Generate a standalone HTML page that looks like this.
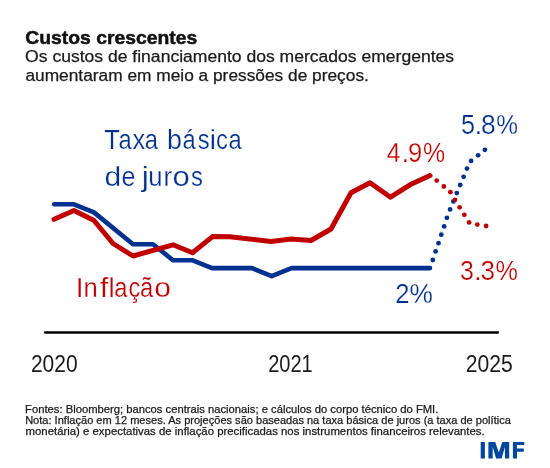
<!DOCTYPE html>
<html><head><meta charset="utf-8">
<style>
html,body{margin:0;padding:0;background:#fff;}
svg{display:block;will-change:transform;}
text{font-family:"Liberation Sans",sans-serif;}
</style></head>
<body>
<svg width="550" height="468" viewBox="0 0 550 468">
<text x="25.35" y="43.6" font-size="19" font-weight="bold" fill="#111" stroke="#111" stroke-width="0.5" stroke-linejoin="round" textLength="171.9" lengthAdjust="spacingAndGlyphs">Custos crescentes</text>
<text x="25.12" y="62.4" font-size="15.8" fill="#1a1a1a" stroke="#1a1a1a" stroke-width="0.25" stroke-linejoin="round" textLength="429.01" lengthAdjust="spacingAndGlyphs">Os custos de financiamento dos mercados emergentes</text>
<text x="25.41" y="80.8" font-size="15.8" fill="#1a1a1a" stroke="#1a1a1a" stroke-width="0.25" stroke-linejoin="round" textLength="343.47" lengthAdjust="spacingAndGlyphs">aumentaram em meio a pressões de preços.</text>
<g font-size="28" fill="#00318f" stroke="#fff" stroke-width="0.25"><text transform="translate(104.23,149) scale(0.91,1)">T</text><text transform="translate(118.48,149) scale(0.85,1)">a</text><text transform="translate(132.42,149) scale(0.904,1)">x</text><text transform="translate(144.83,149) scale(0.85,1)">a</text><text transform="translate(167.07,149) scale(0.961,1)">b</text><text transform="translate(182.53,149) scale(0.85,1)">á</text><text transform="translate(197.8,149) scale(0.85,1)">s</text><text transform="translate(209.75,149) scale(1.0,1)">i</text><text transform="translate(216.06,149) scale(0.85,1)">c</text><text transform="translate(228.53,149) scale(0.85,1)">a</text></g>
<g font-size="28" fill="#00318f" stroke="#fff" stroke-width="0.25"><text transform="translate(104.54,185.6) scale(1.072,1)">d</text><text transform="translate(121.43,185.6) scale(0.898,1)">e</text><text transform="translate(141.8,185.6) scale(1.15,1)">j</text><text transform="translate(148.23,185.6) scale(0.916,1)">u</text><text transform="translate(163.47,185.6) scale(0.929,1)">r</text><text transform="translate(172.59,185.6) scale(1.112,1)">o</text><text transform="translate(190.95,185.6) scale(0.85,1)">s</text></g>
<g font-size="28" fill="#c00000" stroke="#fff" stroke-width="0.25"><text transform="translate(386.74,161.8) scale(0.879,1)">4</text><text transform="translate(401.46,161.8) scale(1.0,1)">.</text><text transform="translate(408.0,161.8) scale(0.912,1)">9</text><text transform="translate(423.11,161.8) scale(0.891,1)">%</text></g>
<g font-size="28" fill="#00318f" stroke="#fff" stroke-width="0.25"><text transform="translate(460.89,133.9) scale(0.904,1)">5</text><text transform="translate(474.46,133.9) scale(1.0,1)">.</text><text transform="translate(481.05,133.9) scale(0.944,1)">8</text><text transform="translate(496.13,133.9) scale(0.873,1)">%</text></g>
<g font-size="28" fill="#c00000" stroke="#fff" stroke-width="0.25"><text transform="translate(459.95,280.1) scale(0.889,1)">3</text><text transform="translate(474.01,280.1) scale(1.0,1)">.</text><text transform="translate(480.6,280.1) scale(0.934,1)">3</text><text transform="translate(495.5,280.1) scale(0.9,1)">%</text></g>
<g font-size="28" fill="#00318f" stroke="#fff" stroke-width="0.25"><text transform="translate(395.21,302.7) scale(0.917,1)">2</text><text transform="translate(409.56,302.7) scale(0.939,1)">%</text></g>
<g font-size="28" fill="#c00000" stroke="#fff" stroke-width="0.25"><text transform="translate(75.86,296.5) scale(1.0,1)">I</text><text transform="translate(83.4,296.5) scale(0.916,1)">n</text><text transform="translate(100.08,296.5) scale(1.051,1)">f</text><text transform="translate(108.53,296.5) scale(1.0,1)">l</text><text transform="translate(114.13,296.5) scale(0.85,1)">a</text><text transform="translate(128.51,296.5) scale(0.85,1)">ç</text><text transform="translate(140.03,296.5) scale(0.85,1)">ã</text><text transform="translate(154.34,296.5) scale(1.074,1)">o</text></g>
<polyline points="54.2,204.3 74,204.3 94,212.4 133,244.3 153,244.3 173,260.2 192,260.2 212,268.1 252,268.1 271.7,276.2 291.5,268.1 430,268.1" fill="none" stroke="#00318f" stroke-width="4.6" stroke-linejoin="round" stroke-linecap="round"/>
<polyline points="54,219.3 74,210.5 94,220.5 113,243.5 133,256 173,244.8 192.5,252.7 212.5,236.6 230,236.8 271,241.5 291,239 311,240.5 331,229 351,192.7 370,182.8 390.5,197.2 410,184.8 430,175.6" fill="none" stroke="#c00000" stroke-width="5" stroke-linejoin="round" stroke-linecap="round"/>
<circle cx="432.8" cy="260" r="2.4" fill="#00318f"/>
<circle cx="435.6" cy="251.4" r="2.4" fill="#00318f"/>
<circle cx="438.5" cy="243.2" r="2.4" fill="#00318f"/>
<circle cx="441.3" cy="234.7" r="2.4" fill="#00318f"/>
<circle cx="444.2" cy="226.4" r="2.4" fill="#00318f"/>
<circle cx="446.9" cy="217.8" r="2.4" fill="#00318f"/>
<circle cx="450.1" cy="209.4" r="2.4" fill="#00318f"/>
<circle cx="453.4" cy="201.4" r="2.4" fill="#00318f"/>
<circle cx="456.8" cy="193.1" r="2.4" fill="#00318f"/>
<circle cx="460.2" cy="185" r="2.4" fill="#00318f"/>
<circle cx="463.6" cy="176.8" r="2.4" fill="#00318f"/>
<circle cx="467" cy="168.6" r="2.4" fill="#00318f"/>
<circle cx="471.1" cy="160.9" r="2.4" fill="#00318f"/>
<circle cx="478.1" cy="155.3" r="2.4" fill="#00318f"/>
<circle cx="484.9" cy="149.8" r="2.4" fill="#00318f"/>
<circle cx="436.7" cy="180.6" r="2.4" fill="#c00000"/>
<circle cx="443.8" cy="186.5" r="2.4" fill="#c00000"/>
<circle cx="450.4" cy="192.2" r="2.4" fill="#c00000"/>
<circle cx="455" cy="199.8" r="2.4" fill="#c00000"/>
<circle cx="459.6" cy="207.3" r="2.4" fill="#c00000"/>
<circle cx="464.3" cy="214.8" r="2.4" fill="#c00000"/>
<circle cx="469.1" cy="222.4" r="2.4" fill="#c00000"/>
<circle cx="477.3" cy="224.6" r="2.4" fill="#c00000"/>
<circle cx="486.1" cy="226" r="2.4" fill="#c00000"/>
<line x1="45" y1="332.5" x2="498" y2="332.5" stroke="#000" stroke-width="2.3" stroke-linecap="round"/>
<text x="30.9" y="371.8" font-size="23.5" fill="#1a1a1a" textLength="46.71" lengthAdjust="spacingAndGlyphs">2020</text>
<text x="268.15" y="371.8" font-size="23.5" fill="#1a1a1a" textLength="44.52" lengthAdjust="spacingAndGlyphs">2021</text>
<text x="465.78" y="371.8" font-size="23.5" fill="#1a1a1a" textLength="46.97" lengthAdjust="spacingAndGlyphs">2025</text>
<text x="25.1" y="412.8" font-size="10.8" fill="#1a1a1a" stroke="#1a1a1a" stroke-width="0.25" stroke-linejoin="round" textLength="413.26" lengthAdjust="spacingAndGlyphs">Fontes: Bloomberg; bancos centrais nacionais; e cálculos do corpo técnico do FMI.</text>
<text x="25.15" y="423.8" font-size="10.8" fill="#1a1a1a" stroke="#1a1a1a" stroke-width="0.25" stroke-linejoin="round" textLength="485.7" lengthAdjust="spacingAndGlyphs">Nota: Inflação em 12 meses. As projeções são baseadas na taxa básica de juros (a taxa de política</text>
<text x="25.51" y="434.6" font-size="10.8" fill="#1a1a1a" stroke="#1a1a1a" stroke-width="0.25" stroke-linejoin="round" textLength="459.21" lengthAdjust="spacingAndGlyphs">monetária) e expectativas de inflação precificadas nos instrumentos financeiros relevantes.</text>
<g fill="#00479d">
<rect x="480.7" y="442" width="4.2" height="16.5"/>
<polygon points="488.4,458.5 488.4,442 495.2,442 498.8,452.4 502.3,442 509.2,442 509.2,458.5 504.9,458.5 504.9,447 501.6,458.5 496.1,458.5 492.7,447 492.7,458.5"/>
<polygon points="512.9,458.5 512.9,442 524.3,442 524.3,444.9 517,444.9 517,448.6 523.8,448.6 523.8,451.7 517,451.7 517,458.5"/>
</g>
</svg>
</body></html>
